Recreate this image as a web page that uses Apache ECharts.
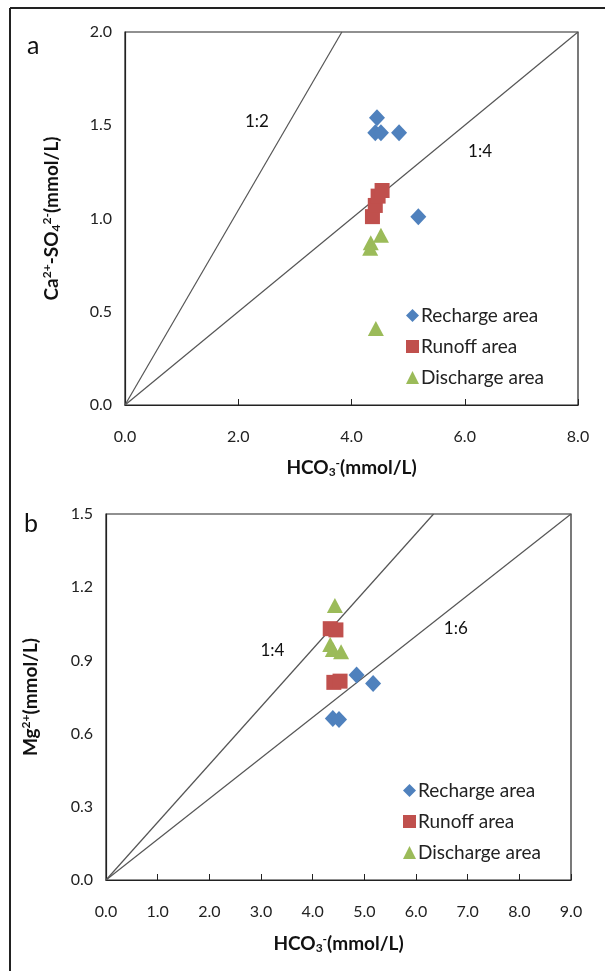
<!DOCTYPE html>
<html>
<head>
<meta charset="utf-8">
<script src="https://cdn.jsdelivr.net/npm/echarts@6/dist/echarts.min.js"></script>
<style>
html,body{margin:0;padding:0;background:#fff;}
#c{width:605px;height:971px;}
</style>
</head>
<body>
<div id="c"></div>
<script>
// Panel a: Ca2+-SO4 2- vs HCO3-
const aRecharge = [[4.45,1.54],[4.42,1.46],[4.52,1.46],[4.84,1.46],[5.18,1.01]];
const aRunoff = [[4.37,1.01],[4.42,1.07],[4.47,1.12],[4.54,1.15]];
const aDischarge = [[4.52,0.91],[4.34,0.87],[4.33,0.84],[4.43,0.41]];
const aLine12 = [[0,0],[3.83,2.0]];
const aLine14 = [[0,0],[8,2.0]];

// Panel b: Mg2+ vs HCO3-
const bRecharge = [[4.85,0.84],[5.17,0.805],[4.39,0.662],[4.51,0.658]];
const bRunoff = [[4.34,1.03],[4.45,1.025],[4.41,0.81],[4.53,0.815]];
const bDischarge = [[4.43,1.125],[4.34,0.965],[4.39,0.945],[4.55,0.935]];
const bLine14 = [[0,0],[6.34,1.5]];
const bLine16 = [[0,0],[9,1.5]];

const seriesNames = ['Recharge area','Runoff area','Discharge area'];
const colors = ['#4F81BD','#C0504D','#9BBB59'];

const FONT = 'Lato, "Open Sans", sans-serif';
const chart = echarts.init(document.getElementById('c'));

const richName = {
  b:{fontSize:19,fontWeight:'bold',fontFamily:FONT,color:'#111'},
  sup:{fontSize:12,fontWeight:'bold',fontFamily:FONT,color:'#111',padding:[0,0,10,0]},
  sub:{fontSize:12,fontWeight:'bold',fontFamily:FONT,color:'#111',padding:[8,0,0,0]}
};

function xAxis(gi, max, interval){
  return {
    type:'value', gridIndex:gi, min:0, max:max, interval:interval,
    name:'{b|HCO}{sub|3}{sup|-}{b|(mmol/L)}', nameLocation:'middle', nameGap:gi===0?52:53,
    nameTextStyle:{rich:richName},
    axisLine:{show:true,lineStyle:{color:'#222',width:1.2}},
    axisTick:{show:true,inside:true,length:6,lineStyle:{color:'#222'}},
    axisLabel:{fontSize:16,fontFamily:FONT,color:'#222',margin:24,formatter:v=>v.toFixed(1)},
    splitLine:{show:false}
  };
}
function yAxis(gi, max, interval, name, gap){
  return {
    type:'value', gridIndex:gi, min:0, max:max, interval:interval,
    name:name, nameLocation:'middle', nameGap:gap, nameRotate:90,
    nameTextStyle:{rich:richName},
    axisLine:{show:true,lineStyle:{color:'#222',width:1.2}},
    axisTick:{show:false},
    axisLabel:{fontSize:16,fontFamily:FONT,color:'#222',margin:13,formatter:v=>v.toFixed(1)},
    splitLine:{show:false}
  };
}

function scatter(name, data, idx, gi){
  const sym = ['diamond','rect','triangle'][idx];
  const size = [[16,17],[15,15],[16,15]][idx];
  return {type:'scatter', name:name, xAxisIndex:gi, yAxisIndex:gi, data:data,
    symbol:sym, symbolSize:size, itemStyle:{color:colors[idx],opacity:1}, z:5};
}
function ratioLine(data, gi, label, labelPos){
  return {type:'line', xAxisIndex:gi, yAxisIndex:gi, data:data, symbol:'none',
    lineStyle:{color:'#555',width:1.2}, silent:true, z:3,
    markPoint:{symbol:'circle', symbolSize:0, data:[{coord:labelPos, value:label}],
      label:{show:true, formatter:label, fontSize:17, fontFamily:FONT, color:'#111', position:'inside'}}};
}

const legendBase = {
  orient:'vertical', itemGap:12, itemWidth:13, itemHeight:13,
  textStyle:{fontSize:19,fontFamily:FONT,color:'#222',padding:[0,0,0,-3]},
  data:seriesNames.map((n,i)=>({name:n,icon:['diamond','rect','triangle'][i]})),
  selectedMode:false
};

chart.setOption({
  animation:false,
  backgroundColor:'#fff',
  grid:[
    {left:125, top:32, width:453, height:373, show:true, borderColor:'#222', borderWidth:1.2},
    {left:106, top:514, width:465, height:366, show:true, borderColor:'#222', borderWidth:1.2}
  ],
  xAxis:[xAxis(0,8,2), xAxis(1,9,1)],
  yAxis:[
    yAxis(0,2,0.5,'{b|Ca}{sup|2+}{b|-SO}{sub|4}{sup|2-}{b|(mmol/L)}',62),
    yAxis(1,1.5,0.3,'{b|Mg}{sup|2+}{b|(mmol/L)}',64)
  ],
  legend:[
    Object.assign({}, legendBase, {left:401, top:301}),
    Object.assign({}, legendBase, {left:398, top:776})
  ],
  graphic:[
    {type:'line', shape:{x1:10,y1:8,x2:10,y2:971}, style:{stroke:'#222',lineWidth:2}},
    {type:'line', shape:{x1:10,y1:8,x2:605,y2:8}, style:{stroke:'#222',lineWidth:2}},
    {type:'text', left:27, top:33, style:{text:'a', fontSize:25, fontFamily:FONT, fill:'#111'}},
    {type:'text', left:24, top:511, style:{text:'b', fontSize:25, fontFamily:FONT, fill:'#111'}}
  ],
  series:[
    ratioLine(aLine12,0,'1:2',[2.33,1.52]),
    ratioLine(aLine14,0,'1:4',[6.27,1.36]),
    ratioLine(bLine14,1,'1:4',[3.22,0.94]),
    ratioLine(bLine16,1,'1:6',[6.77,1.03]),
    scatter(seriesNames[0],aRecharge,0,0),
    scatter(seriesNames[1],aRunoff,1,0),
    scatter(seriesNames[2],aDischarge,2,0),
    scatter(seriesNames[0],bRecharge,0,1),
    scatter(seriesNames[1],bRunoff,1,1),
    scatter(seriesNames[2],bDischarge,2,1)
  ]
});
</script>
</body>
</html>
